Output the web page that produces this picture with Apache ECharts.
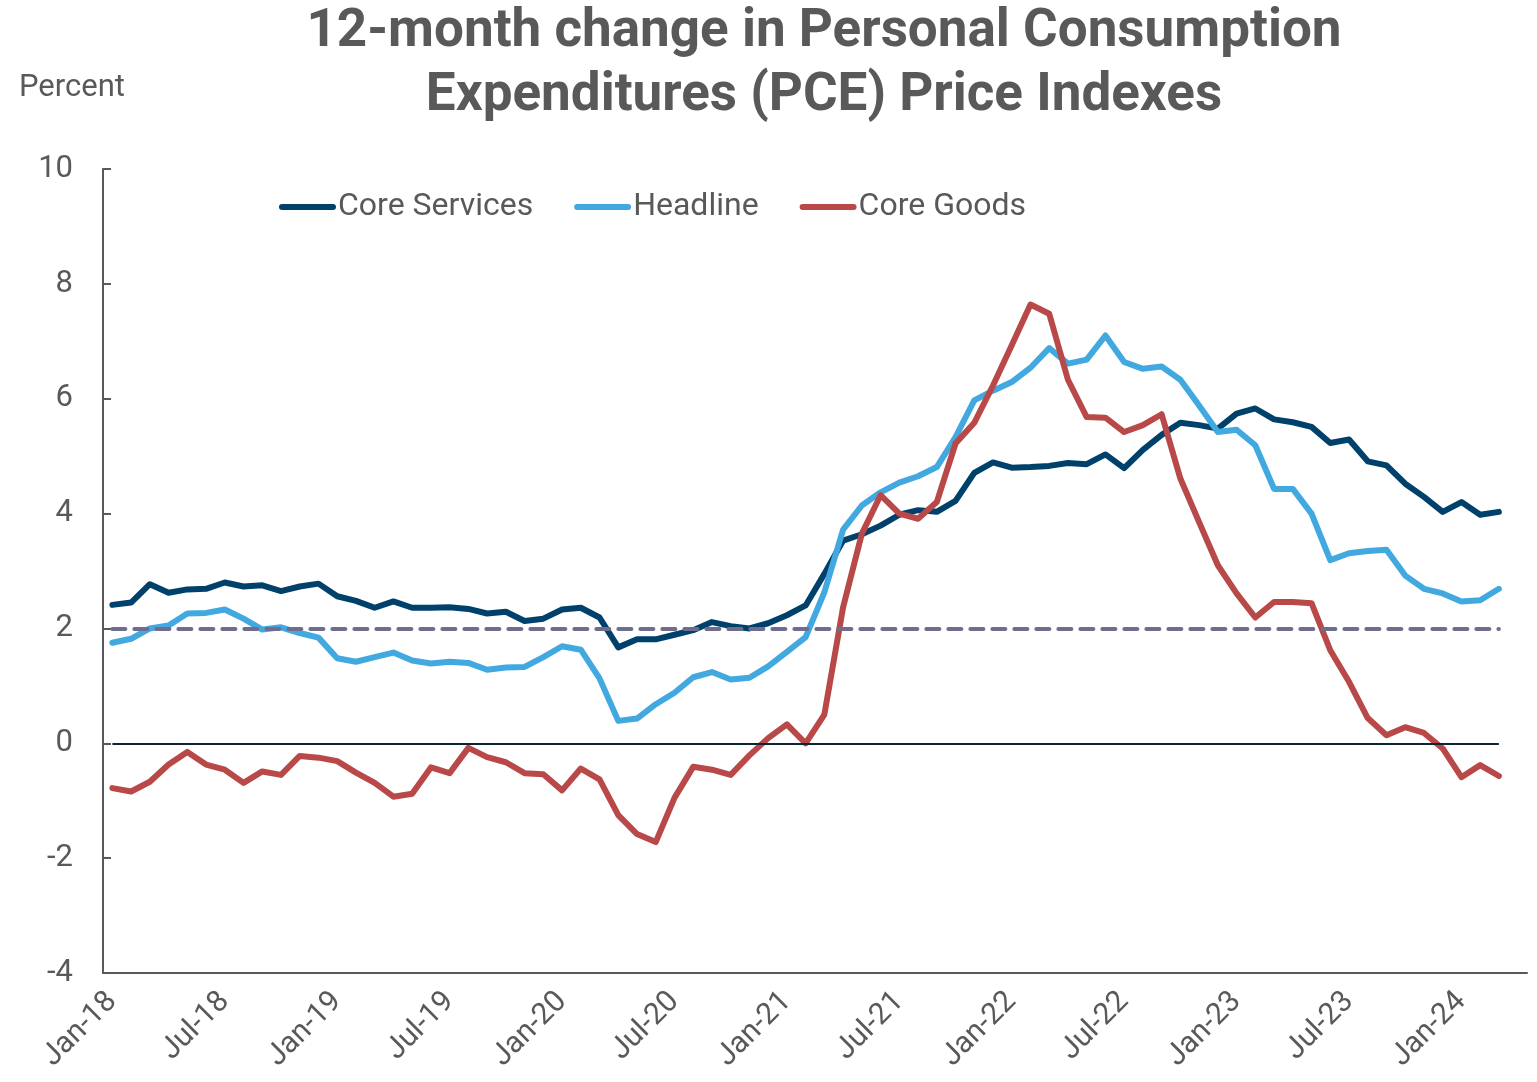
<!DOCTYPE html>
<html>
<head>
<meta charset="utf-8">
<title>PCE Price Indexes</title>
<script src="https://cdn.jsdelivr.net/npm/echarts@6/dist/echarts.min.js"></script>
<style>
  html, body { margin: 0; padding: 0; background: #fff; }
  #chart { width: 1537px; height: 1082px; }
</style>
</head>
<body>
<div id="chart"></div>
<script>
// ---------------------------------------------------------------------------
// Data (12-month % change, Jan-18 .. Mar-24; axis runs to Apr-24)
// ---------------------------------------------------------------------------
const monthNames = ["Jan","Feb","Mar","Apr","May","Jun","Jul","Aug","Sep","Oct","Nov","Dec"];
const years      = ["18","19","20","21","22","23","24"];
const lastMonth  = 3; // Apr-24 is the last category on the axis

const categories = [];
years.forEach((y, yi) => {
  monthNames.forEach((m, mi) => {
    if (yi === years.length - 1 && mi > lastMonth) return;
    categories.push(`${m}-${y}`);
  });
});

const coreServices = [
  2.41, 2.45, 2.77, 2.62, 2.68, 2.69, 2.80, 2.73, 2.75, 2.65, 2.73, 2.78,
  2.56, 2.48, 2.36, 2.47, 2.36, 2.36, 2.37, 2.34, 2.26, 2.29, 2.13, 2.17,
  2.33, 2.36, 2.19, 1.67, 1.81, 1.81, 1.89, 1.97, 2.11, 2.04, 2.00, 2.09,
  2.23, 2.40, 2.95, 3.53, 3.64, 3.79, 3.98, 4.06, 4.03, 4.22, 4.71, 4.89,
  4.80, 4.81, 4.83, 4.88, 4.86, 5.03, 4.79, 5.11, 5.37, 5.58, 5.54, 5.48,
  5.74, 5.83, 5.64, 5.59, 5.51, 5.23, 5.29, 4.91, 4.84, 4.52, 4.29, 4.03,
  4.20, 3.98, 4.03
];

const headline = [
  1.75, 1.82, 2.00, 2.05, 2.26, 2.27, 2.33, 2.17, 1.98, 2.02, 1.92, 1.84,
  1.48, 1.42, 1.50, 1.58, 1.44, 1.39, 1.42, 1.40, 1.28, 1.32, 1.33, 1.50,
  1.69, 1.63, 1.13, 0.39, 0.43, 0.68, 0.88, 1.15, 1.24, 1.11, 1.14, 1.34,
  1.59, 1.85, 2.63, 3.72, 4.14, 4.37, 4.54, 4.65, 4.81, 5.33, 5.97, 6.14,
  6.29, 6.54, 6.88, 6.61, 6.68, 7.10, 6.64, 6.52, 6.56, 6.33, 5.88, 5.42,
  5.46, 5.19, 4.43, 4.43, 4.00, 3.19, 3.31, 3.35, 3.37, 2.92, 2.69, 2.61,
  2.47, 2.49, 2.69
];

const coreGoods = [
  -0.78, -0.84, -0.67, -0.37, -0.15, -0.37, -0.46, -0.69, -0.49, -0.55, -0.22, -0.25,
  -0.31, -0.51, -0.69, -0.93, -0.88, -0.42, -0.52, -0.08, -0.24, -0.33, -0.52, -0.54,
  -0.82, -0.44, -0.63, -1.25, -1.58, -1.72, -0.95, -0.41, -0.46, -0.55, -0.21, 0.09,
  0.33, 0.00, 0.50, 2.37, 3.65, 4.32, 4.00, 3.91, 4.20, 5.22, 5.58, 6.23,
  6.93, 7.64, 7.48, 6.33, 5.68, 5.67, 5.42, 5.54, 5.73, 4.61, 3.85, 3.10,
  2.61, 2.19, 2.46, 2.46, 2.44, 1.62, 1.07, 0.44, 0.14, 0.28, 0.18, -0.09,
  -0.59, -0.38, -0.57
];

const targetRate = 2;   // dashed reference line
const yTicks     = { min: -4, max: 10, step: 2 };

// ---------------------------------------------------------------------------
// Chart
// ---------------------------------------------------------------------------
const TEXT = "#595959";
const FONT = "Roboto";
const firstCat = categories[0];
const lastCat  = categories[coreGoods.length - 1];

// thick line with round ends for the legend keys
const LEGEND_ICON = "path://M3,0 H53 A3,3 0 0 1 53,6 H3 A3,3 0 0 1 3,0 Z";

const chart = echarts.init(document.getElementById("chart"));

const option = {
  backgroundColor: "#fff",
  animation: false,
  textStyle: { fontFamily: FONT },
  title: [
    {
      text: "12-month change in Personal Consumption\nExpenditures (PCE) Price Indexes",
      left: 819,
      top: -4,
      textAlign: "center",
      textStyle: { color: TEXT, fontFamily: FONT, fontWeight: "bold", fontSize: 53, lineHeight: 64 },
    },
    {
      text: "Percent",
      left: 14,
      top: 68,
      textStyle: { color: TEXT, fontFamily: FONT, fontWeight: "normal", fontSize: 31 },
    },
  ],
  legend: {
    data: ["Core Services", "Headline", "Core Goods"],
    left: 274,
    top: 186,
    icon: LEGEND_ICON,
    itemWidth: 57,
    itemHeight: 7,
    itemGap: 41,
    textStyle: { color: TEXT, fontFamily: FONT, fontSize: 32, padding: [0, 0, 0, -3] },
  },
  grid: { left: 103, right: 10, top: 169, bottom: 109, containLabel: false },
  xAxis: {
    type: "category",
    data: categories,
    boundaryGap: true,
    axisLine: { onZero: false, lineStyle: { color: TEXT, width: 2 } },
    axisTick: { inside: true, length: 8, interval: 5, lineStyle: { color: TEXT, width: 2 } },
    axisLabel: { interval: 5, rotate: 45, margin: 24, color: TEXT, fontSize: 30, fontFamily: FONT },
    splitLine: { show: false },
  },
  yAxis: {
    type: "value",
    min: yTicks.min,
    max: yTicks.max,
    interval: yTicks.step,
    axisLine: { show: true, lineStyle: { color: TEXT, width: 2 } },
    axisTick: { show: true, inside: true, length: 8, lineStyle: { color: TEXT, width: 2 } },
    axisLabel: { color: TEXT, fontSize: 31, margin: 30, fontFamily: FONT },
    splitLine: { show: false },
  },
  series: [
    {
      name: "Core Services",
      type: "line",
      data: coreServices,
      symbol: "none",
      lineStyle: { color: "#00416B", width: 6, cap: "round", join: "round" },
      itemStyle: { color: "#00416B" },
      markLine: {
        silent: true,
        symbol: "none",
        label: { show: false },
        lineStyle: { color: "#0B2436", width: 2, type: "solid" },
        data: [[{ coord: [firstCat, 0] }, { coord: [lastCat, 0] }]],
      },
    },
    {
      name: "Headline",
      type: "line",
      data: headline,
      symbol: "none",
      lineStyle: { color: "#41A9E0", width: 6, cap: "round", join: "round" },
      itemStyle: { color: "#41A9E0" },
    },
    {
      name: "Core Goods",
      type: "line",
      data: coreGoods,
      symbol: "none",
      lineStyle: { color: "#B94848", width: 6, cap: "round", join: "round" },
      itemStyle: { color: "#B94848" },
      markLine: {
        silent: true,
        symbol: "none",
        label: { show: false },
        lineStyle: { color: "#6E6D8E", width: 4, type: [13, 9], cap: "round" },
        data: [[{ coord: [firstCat, targetRate] }, { coord: [lastCat, targetRate] }]],
      },
    },
  ],
};

chart.setOption(option);
</script>
</body>
</html>
